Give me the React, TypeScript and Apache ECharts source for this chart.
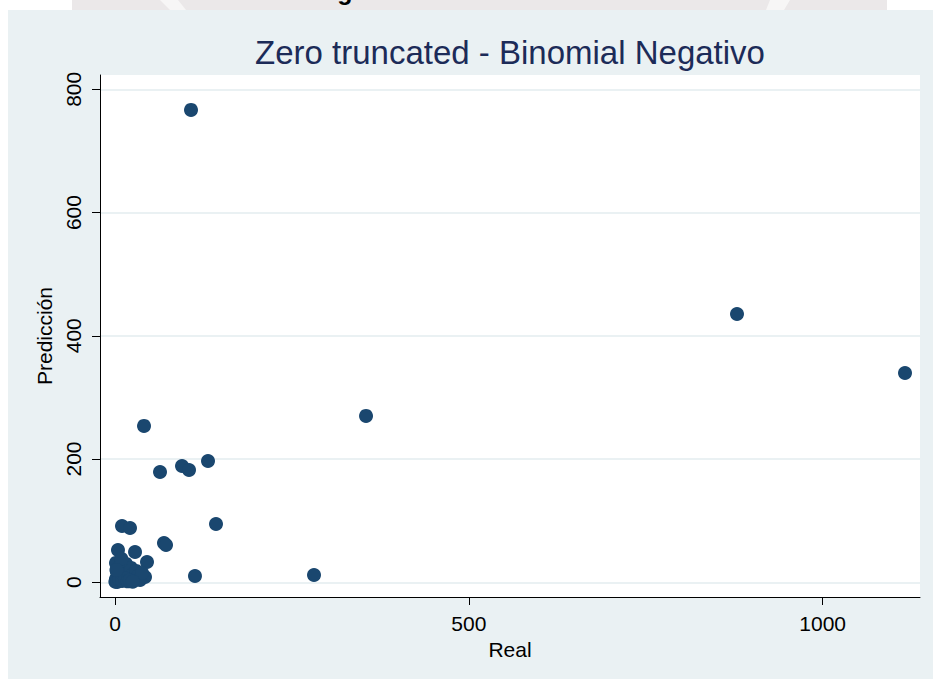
import React, { useEffect, useRef } from "react";
import * as echarts from "echarts";

const titleText = "Zero truncated - Binomial Negativo";
const xName = "Real";
const yName = "Predicción";
const xTicks = [0, 500, 1000];
const yTicks = [0, 200, 400, 600, 800];

// [Real, Predicción]
const realValues = [
  107.4, 878.9, 1116.3, 354.7, 41.0, 63.6, 94.7, 104.6, 131.4, 142.7,
  9.9, 21.2, 69.2, 72.1, 113.0, 281.2, 45.2, 42.4, 28.3, 4.2,
  1.4, 2.8, 1.4, 5.7, 7.1, 11.3, 12.7, 15.6, 17.0, 19.8,
  22.6, 24.0, 26.9, 29.7, 32.5, 35.4, 38.2, 1.4, 4.2, 8.5,
  0.5, 3.0, 6.0, 10.0, 14.0, 18.0, 21.0, 25.0, 9.0, 2.0,
];
const predValues = [
  766.6, 435.4, 339.6, 270.0, 253.8, 179.0, 188.7, 182.2, 196.8, 94.6,
  91.4, 88.1, 63.8, 60.5, 10.2, 11.8, 32.9, 8.6, 49.2, 52.4,
  5.4, 16.8, 31.4, 24.9, 11.9, 20.0, 3.7, 29.8, 13.5, 7.0,
  23.3, 11.9, 5.4, 18.4, 10.2, 3.7, 15.1, 2.1, 8.6, 34.7,
  1.0, 0.5, 4.0, 2.0, 6.0, 1.5, 3.0, 1.0, 38.0, 20.0,
];

const FONT = "'Liberation Sans', Arial, Helvetica, sans-serif";

export default function App() {
  const ref = useRef<HTMLDivElement>(null);
  useEffect(() => {
    if (!ref.current) return;
    const chart = echarts.init(ref.current, undefined, { renderer: "svg" });
    const data = realValues.map((x, i) => [x, predValues[i]]);
    chart.setOption({
      animation: false,
      backgroundColor: "#eaf1f3",
      graphic: [
        { type: "rect", shape: { x: 0, y: 0, width: 933, height: 10 }, style: { fill: "#ffffff" }, z: 1 },
        { type: "rect", shape: { x: 0, y: 0, width: 8, height: 679 }, style: { fill: "#ffffff" }, z: 1 },
        { type: "rect", shape: { x: 72, y: 0, width: 815, height: 10 }, style: { fill: "#ebe8e9" }, z: 2 },
        { type: "polygon", shape: { points: [[160, 0], [178, 0], [186, 10], [170, 10]] }, style: { fill: "#f7f6f6" }, z: 3 },
        { type: "polygon", shape: { points: [[770, 0], [790, 0], [784, 10], [766, 10]] }, style: { fill: "#f7f6f6" }, z: 3 },
        {
          type: "text",
          x: 345,
          y: -9.5,
          z: 4,
          style: { text: "g", fill: "#000", font: `bold 25px ${FONT}`, textAlign: "center", textVerticalAlign: "middle" },
        },
        {
          type: "text",
          x: 510,
          y: 52,
          z: 4,
          style: { text: titleText, fill: "#1c2b58", font: `33px ${FONT}`, textAlign: "center", textVerticalAlign: "middle" },
        },
      ],
      grid: {
        left: 100,
        top: 75,
        width: 820,
        height: 522,
        show: true,
        backgroundColor: "#ffffff",
        borderWidth: 0,
      },
      xAxis: {
        type: "value",
        min: -21.2,
        max: 1137.5,
        name: xName,
        nameLocation: "middle",
        nameGap: 35,
        nameTextStyle: { color: "#000", fontSize: 21, fontFamily: FONT },
        axisLine: { show: true, onZero: false, lineStyle: { color: "#000", width: 1 } },
        axisTick: { show: true, length: 8, customValues: xTicks, lineStyle: { color: "#000" } },
        axisLabel: {
          customValues: xTicks,
          margin: 16,
          color: "#000",
          fontSize: 21,
          fontFamily: FONT,
          formatter: (v: number) => String(v),
        },
        splitLine: { show: false },
      },
      yAxis: {
        type: "value",
        min: -23.9,
        max: 823.2,
        name: yName,
        nameLocation: "middle",
        nameGap: 37,
        nameTextStyle: { color: "#000", fontSize: 21, fontFamily: FONT },
        axisLine: { show: true, onZero: false, lineStyle: { color: "#000", width: 1 } },
        axisTick: { show: true, length: 8, customValues: yTicks, lineStyle: { color: "#000" } },
        axisLabel: {
          customValues: yTicks,
          rotate: 90,
          margin: 16,
          color: "#000",
          fontSize: 21,
          fontFamily: FONT,
          formatter: (v: number) => String(v),
        },
        splitLine: { show: true, lineStyle: { color: "#eaf1f3", width: 2 } },
      },
      series: [
        {
          type: "scatter",
          data,
          symbol: "circle",
          symbolSize: 14,
          itemStyle: { color: "#1a476f", opacity: 1 },
          clip: false,
        },
      ],
    });
    return () => chart.dispose();
  }, []);
  return (
    <div
      ref={ref}
      style={{ position: "fixed", left: 0, top: 0, width: 933, height: 679 }}
    />
  );
}
